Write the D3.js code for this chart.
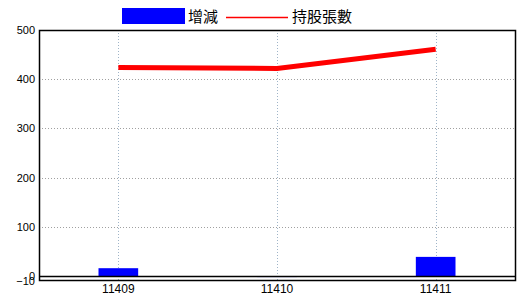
<!DOCTYPE html>
<html><head><meta charset="utf-8">
<script src="https://cdn.jsdelivr.net/npm/d3@7"></script>
<style>body{margin:0;background:#fff}svg{display:block}</style>
</head><body><svg id="c" width="520" height="300"></svg>
<script>
const categories = ["11409", "11410", "11411"];
const changeValues = [16, -2, 39];
const holdingValues = [424, 422, 461];
const yTicks = [500, 400, 300, 200, 100, 0, -10];
const seriesNames = ["增減", "持股張數"];

const svg = d3.select("#c");
const L = 39, R = 515, T = 30, B = 281;
const x = d3.scaleBand().domain(categories).range([L, R]).padding(0);
const y = d3.scaleLinear().domain([-10, 500]).range([B, T]);
const cx = d => Math.round(x(d) + x.bandwidth() / 2) + 0.5;

// horizontal grid
svg.append("g").selectAll("line").data(yTicks.filter(v => v > 0 && v < 500)).join("line")
  .attr("x1", L).attr("x2", R)
  .attr("y1", d => Math.round(y(d)) + 0.5).attr("y2", d => Math.round(y(d)) + 0.5)
  .attr("stroke", "#a0a0a0").attr("stroke-dasharray", "1,2");
// vertical grid
svg.append("g").selectAll("line").data(categories).join("line")
  .attr("x1", cx).attr("x2", cx).attr("y1", T).attr("y2", B)
  .attr("stroke", "#9fb4c8").attr("stroke-dasharray", "1,2");

// bars
const bw = x.bandwidth() * 0.25;
svg.append("g").selectAll("rect").data(categories).join("rect")
  .attr("x", d => x(d) + x.bandwidth() / 2 - bw / 2)
  .attr("width", bw)
  .attr("y", (d, i) => y(Math.max(0, changeValues[i])))
  .attr("height", (d, i) => Math.abs(y(changeValues[i]) - y(0)))
  .attr("fill", "#0000ff");

// zero line
svg.append("line").attr("x1", L).attr("x2", R)
  .attr("y1", Math.round(y(0)) + 0.5).attr("y2", Math.round(y(0)) + 0.5)
  .attr("stroke", "#000").attr("stroke-width", 1.5);

// frame
svg.append("rect").attr("x", L + 0.5).attr("y", T + 0.5).attr("width", R - L).attr("height", B - T - 1)
  .attr("fill", "none").attr("stroke", "#000").attr("stroke-width", 1.5);

// line
const line = d3.line().x((d, i) => x(categories[i]) + x.bandwidth() / 2).y(d => y(d));
svg.append("path").datum(holdingValues).attr("d", line)
  .attr("fill", "none").attr("stroke", "#ff0000").attr("stroke-width", 5);

// y axis labels
const yAxis = d3.axisLeft(y).tickValues(yTicks).tickSize(0).tickPadding(4);
const gy = svg.append("g").attr("transform", `translate(${L},0)`).call(yAxis);
gy.select(".domain").remove();
gy.selectAll("text").attr("font-family", "Liberation Sans, Arial, sans-serif").attr("font-size", 11).attr("fill", "#000");

// x axis labels
const xAxis = d3.axisBottom(x).tickSize(0).tickPadding(3);
const gx = svg.append("g").attr("transform", `translate(0,${B})`).call(xAxis);
gx.select(".domain").remove();
gx.selectAll("text").attr("font-family", "Liberation Sans, Arial, sans-serif").attr("font-size", 12).attr("fill", "#000");

// legend
const lg = svg.append("g").attr("font-family", "Noto Sans CJK TC, sans-serif").attr("font-size", 15);
lg.append("rect").attr("x", 122).attr("y", 8).attr("width", 63).attr("height", 16).attr("fill", "#0000ff");
lg.append("text").attr("x", 188).attr("y", 22).text(seriesNames[0]);
lg.append("line").attr("x1", 226).attr("x2", 288).attr("y1", 17.5).attr("y2", 17.5).attr("stroke", "#ff0000").attr("stroke-width", 1.5);
lg.append("text").attr("x", 292).attr("y", 22).text(seriesNames[1]);
</script></body></html>
